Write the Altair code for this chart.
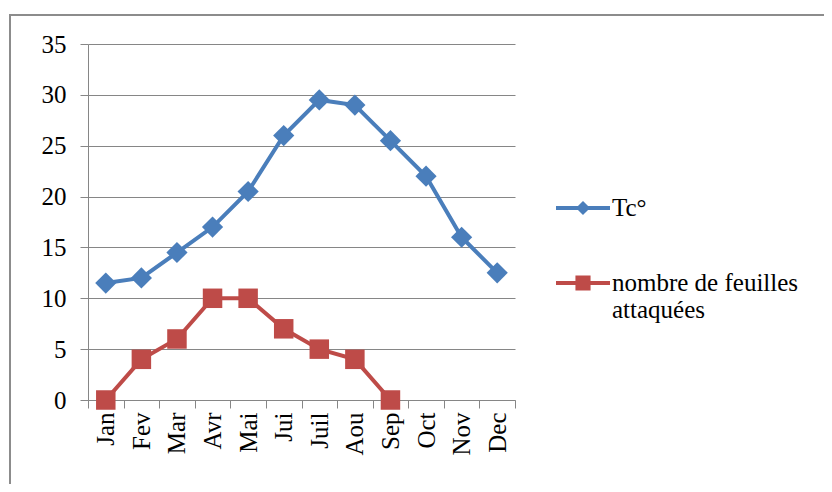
import altair as alt
import pandas as pd

months = ["Jan", "Fev", "Mar", "Avr", "Mai", "Jui", "Juil", "Aou", "Sep", "Oct", "Nov", "Dec"]
tc_values = [11.5, 12, 14.5, 17, 20.5, 26, 29.5, 29, 25.5, 22, 16, 12.5]
leaf_values = [0, 4, 6, 10, 10, 7, 5, 4, 0, None, None, None]
series_names = ["Tc°", "nombre de feuilles attaquées"]
series_colors = ["#4A7EBB", "#BE4B48"]
y_ticks = [0, 5, 10, 15, 20, 25, 30, 35]

rows = []
for m, v in zip(months, tc_values):
    rows.append({"mois": m, "serie": series_names[0], "valeur": v})
for m, v in zip(months, leaf_values):
    rows.append({"mois": m, "serie": series_names[1], "valeur": v})
df = pd.DataFrame(rows)

FONT = "Times New Roman"
GRID = "#868686"
FS = 25

x_enc = alt.X(
    "mois:N", sort=months, bandPosition=0.5,
    scale=alt.Scale(type="band", paddingInner=0, paddingOuter=0),
    axis=alt.Axis(title=None, tickBand="extent", labelAngle=270, labelFont=FONT,
                  labelFontSize=FS, labelColor="black", domainColor=GRID, tickColor=GRID,
                  tickSize=8, labelPadding=4, grid=False),
)
y_enc = alt.Y(
    "valeur:Q",
    scale=alt.Scale(domain=[0, 35], nice=False),
    axis=alt.Axis(title=None, values=y_ticks, grid=True, gridColor=GRID, gridOpacity=1,
                  tickColor=GRID, domainColor=GRID, tickSize=8, labelPadding=14,
                  labelFont=FONT, labelFontSize=FS, labelColor="black"),
)
color_enc = alt.Color("serie:N", scale=alt.Scale(domain=series_names, range=series_colors), legend=None)

marker_diamond = "M0,-1L1,0L0,1L-1,0Z"
lines = alt.Chart(df).mark_line(strokeWidth=4).encode(x=x_enc, y=y_enc, color=color_enc)
points = alt.Chart(df).transform_filter("isValid(datum.valeur)").mark_point(filled=True, opacity=1, strokeWidth=0).encode(
    x=x_enc, y=y_enc, color=color_enc,
    shape=alt.Shape("serie:N", scale=alt.Scale(domain=series_names, range=[marker_diamond, "square"]), legend=None),
    size=alt.Size("serie:N", scale=alt.Scale(domain=series_names, range=[450, 380]), legend=None),
)

path_diamond = "M-1,-0.075H1V0.075H-1Z M0,-0.26L0.26,0L0,0.26L-0.26,0Z"
path_square = "M-1,-0.075H1V0.075H-1Z M-0.28,-0.28H0.28V0.28H-0.28Z"
leg = dict(orient="none", legendX=468, legendY=137, title=None, symbolSize=2916,
           labelFont=FONT, labelFontSize=FS, labelColor="black", rowPadding=35,
           labelOffset=2, symbolStrokeWidth=0, labelLimit=400,
           labelExpr="datum.label == 'Tc°' ? 'Tc°' : ['nombre de feuilles', 'attaquées']")
legend_layer = alt.Chart(df).transform_filter("false").mark_point(filled=True, opacity=1).encode(
    color=alt.Color("serie:N", scale=alt.Scale(domain=series_names, range=series_colors), legend=alt.Legend(**leg)),
    shape=alt.Shape("serie:N", scale=alt.Scale(domain=series_names, range=[path_diamond, path_square]), legend=alt.Legend(**leg)),
)

frame = alt.Chart(df).mark_rect(fillOpacity=0, stroke="#8c8c8c", strokeWidth=2).encode(
    x=alt.value(-78), x2=alt.value(760), y=alt.value(-29), y2=alt.value(490)
)

chart = alt.layer(frame, lines, points, legend_layer).resolve_scale(
    color="independent", shape="independent", size="independent"
).properties(
    width=427, height=356,
    padding={"left": 80, "top": 36, "right": 309, "bottom": 84},
    autosize=alt.AutoSizeParams(type="none"),
).configure(font=FONT).configure_view(stroke=None)

chart.save("out.html", embed_options={"renderer": "svg", "actions": False})
